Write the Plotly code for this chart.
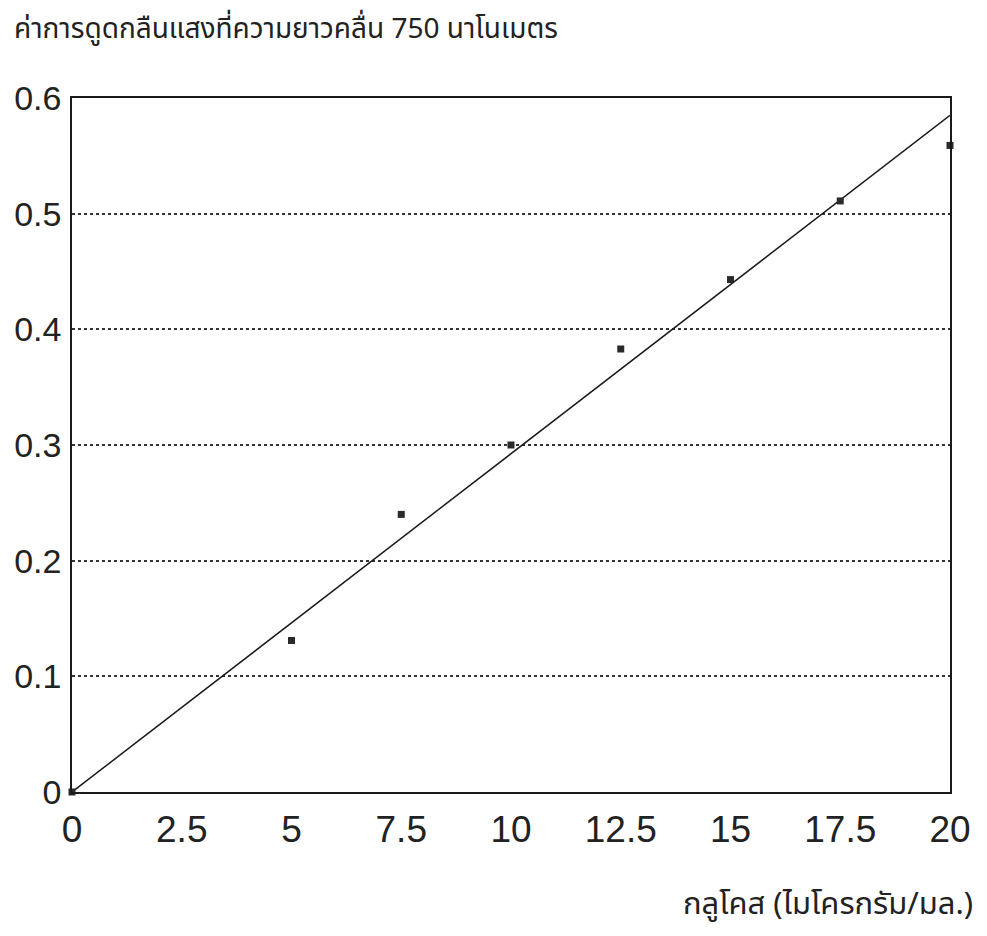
import plotly.graph_objects as go

# Data
glucose = [0, 5, 7.5, 10, 12.5, 15, 17.5, 20]
absorbance = [0.0, 0.131, 0.240, 0.300, 0.383, 0.443, 0.511, 0.559]
fit_x = [0, 20]
fit_y = [0.0, 0.585]

x_ticks = [0, 2.5, 5, 7.5, 10, 12.5, 15, 17.5, 20]
x_tick_labels = ["0", "2.5", "5", "7.5", "10", "12.5", "15", "17.5", "20"]
y_ticks = [0, 0.1, 0.2, 0.3, 0.4, 0.5, 0.6]
y_tick_labels = ["0", "0.1", "0.2", "0.3", "0.4", "0.5", "0.6"]

title_text = "ค่าการดูดกลืนแสงที่ความยาวคลื่น 750 นาโนเมตร"
x_title_text = "กลูโคส (ไมโครกรัม/มล.)"

thai_font = "Noto Sans Thai, Noto Sans, DejaVu Sans, sans-serif"

fig = go.Figure()
fig.add_trace(go.Scatter(
    x=fit_x, y=fit_y, mode="lines",
    line=dict(color="#1a1a1a", width=1.5),
    showlegend=False, hoverinfo="skip",
))
fig.add_trace(go.Scatter(
    x=glucose, y=absorbance, mode="markers",
    marker=dict(symbol="square", size=7, color="#2a2a2a"),
    cliponaxis=False, showlegend=False,
))

fig.update_layout(
    width=971, height=920,
    margin=dict(l=64, r=29, t=90, b=136, autoexpand=False),
    paper_bgcolor="white", plot_bgcolor="white",
    xaxis=dict(
        range=[0, 20], tickvals=x_ticks, ticktext=x_tick_labels,
        showgrid=False, zeroline=False,
        showline=True, linecolor="#1a1a1a", linewidth=1.5, mirror=True,
        ticks="", ticklabelstandoff=4,
        tickfont=dict(family="Liberation Sans, Arial, sans-serif", size=37, color="#222"),
    ),
    yaxis=dict(
        range=[0, 0.6], tickvals=y_ticks, ticktext=y_tick_labels,
        showgrid=True, gridcolor="#333", griddash="dot", gridwidth=1.5,
        zeroline=False,
        showline=True, linecolor="#1a1a1a", linewidth=1.5, mirror=True,
        ticks="", ticklabelstandoff=2,
        tickfont=dict(family="Liberation Sans, Arial, sans-serif", size=34, color="#222"),
    ),
    annotations=[
        dict(text=title_text, xref="paper", yref="paper",
             x=-0.068, y=1.098, xanchor="left", yanchor="middle",
             showarrow=False, font=dict(family=thai_font, size=28, color="#222")),
        dict(text=x_title_text, xref="paper", yref="paper",
             x=1.0285, y=-0.162, xanchor="right", yanchor="middle",
             showarrow=False, font=dict(family=thai_font, size=31, color="#222")),
    ],
)

fig.write_html("out.html")
